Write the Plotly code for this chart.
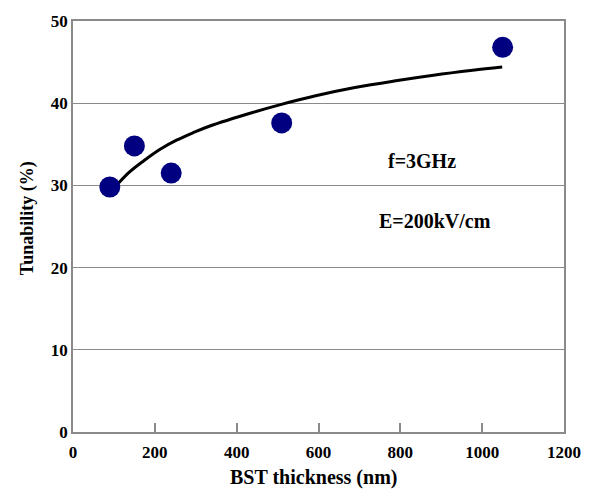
import plotly.graph_objects as go

# Measured data points
thickness_nm = [90, 150, 240, 510, 1050]
tunability_pct = [29.8, 34.8, 31.5, 37.6, 46.8]

# Fitted trend curve
fit_x = [89, 133, 173, 213, 253, 293, 333, 441, 505, 593, 689, 785, 881, 977, 1049]
fit_y = [29.0, 31.4, 33.0, 34.4, 35.5, 36.4, 37.2, 38.9, 39.8, 40.9, 41.9, 42.7, 43.4, 44.0, 44.4]

x_ticks = [0, 200, 400, 600, 800, 1000, 1200]
y_ticks = [0, 10, 20, 30, 40, 50]

FONT = "Liberation Serif, Times New Roman, serif"
GRID = "#8a8a8a"

fig = go.Figure()
fig.add_trace(go.Scatter(x=fit_x, y=fit_y, mode="lines",
                         line=dict(color="black", width=3, shape="spline", smoothing=1.0),
                         showlegend=False, hoverinfo="skip"))
fig.add_trace(go.Scatter(x=thickness_nm, y=tunability_pct, mode="markers",
                         marker=dict(color="#000080", size=21),
                         showlegend=False))

fig.update_layout(
    width=593, height=492,
    margin=dict(l=73, r=20, t=15, b=60),
    paper_bgcolor="white", plot_bgcolor="white",
    font=dict(family=FONT, size=17, color="black"),
    xaxis=dict(range=[0, 1200], tickvals=x_ticks,
               ticktext=[f"<b>{v}</b>" for v in x_ticks],
               ticks="inside", ticklen=9, ticklabelstandoff=4,
               tickcolor=GRID, tickwidth=1.5, showline=True, linecolor=GRID,
               linewidth=1.5, mirror=True, showgrid=False, zeroline=False,
               tickfont=dict(family=FONT, size=17, color="black", weight="bold")),
    yaxis=dict(range=[0, 50], tickvals=y_ticks,
               ticktext=[f"<b>{v}</b>" for v in y_ticks],
               ticks="", showline=True,
               linecolor=GRID, linewidth=1.5, mirror=True, showgrid=True,
               gridcolor=GRID, gridwidth=1, zeroline=False,
               tickfont=dict(family=FONT, size=17, color="black", weight="bold")),
    annotations=[
        dict(text="<b>BST thickness (nm)</b>", x=0.49, xref="paper", y=-0.11, yref="paper",
             yanchor="middle", showarrow=False, font=dict(family=FONT, size=20)),
        dict(text="<b>Tunability (%)</b>", x=-0.094, xref="paper", y=0.52, yref="paper",
             textangle=-90, xanchor="center", showarrow=False,
             font=dict(family=FONT, size=18)),
        dict(text="<b>f=3GHz</b>", x=852, y=33.0, xref="x", yref="y", showarrow=False,
             font=dict(family=FONT, size=20)),
        dict(text="<b>E=200kV/cm</b>", x=885, y=25.7, xref="x", yref="y", showarrow=False,
             font=dict(family=FONT, size=20)),
    ],
)

fig.write_html("out.html")
